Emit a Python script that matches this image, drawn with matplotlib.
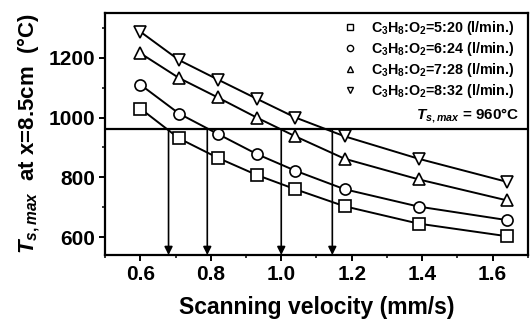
import numpy as np
import matplotlib
matplotlib.use("Agg")
import matplotlib.pyplot as plt
from matplotlib.ticker import MultipleLocator
from matplotlib.lines import Line2D

plt.rcParams['font.family'] = ['Liberation Sans', 'DejaVu Sans']
plt.rcParams['font.weight'] = 'bold'
plt.rcParams['mathtext.fontset'] = 'custom'
plt.rcParams['mathtext.rm'] = 'Liberation Sans:bold'
plt.rcParams['mathtext.it'] = 'Liberation Sans:italic:bold'
plt.rcParams['mathtext.bf'] = 'Liberation Sans:bold'

# scanning velocity (mm/s)
velocity = [0.60, 0.71, 0.82, 0.93, 1.04, 1.18, 1.39, 1.64]

# peak surface temperature at x=8.5cm (C)
t_520 = [1030, 930, 865, 808, 760, 703, 645, 603]
t_624 = [1110, 1013, 945, 878, 822, 760, 702, 657]
t_728 = [1215, 1132, 1067, 1000, 937, 862, 793, 723]
t_832 = [1287, 1192, 1127, 1063, 1000, 937, 862, 785]

series = [
    (t_520, 's', r'C$_3$H$_8$:O$_2$=5:20 (l/min.)'),
    (t_624, 'o', r'C$_3$H$_8$:O$_2$=6:24 (l/min.)'),
    (t_728, '^', r'C$_3$H$_8$:O$_2$=7:28 (l/min.)'),
    (t_832, 'v', r'C$_3$H$_8$:O$_2$=8:32 (l/min.)'),
]

t_limit = 960
limit_velocity = [0.68, 0.79, 1.00, 1.145]

fig = plt.figure(figsize=(5.31, 3.22), dpi=100)
ax = fig.add_axes([0.198, 0.208, 0.796, 0.752])

handles = []
for temps, mk, lab in series:
    ax.plot(velocity, temps, color='black', lw=1.4, marker=mk, ms=8,
            mfc='white', mec='black', mew=1.2)
    handles.append(Line2D([], [], ls='none', marker=mk, ms=4.5, mfc='white',
                          mec='black', mew=1.0, label=lab))

ax.axhline(t_limit, color='black', lw=1.6)
for v in limit_velocity:
    ax.annotate('', xy=(v, 540), xytext=(v, t_limit),
                arrowprops=dict(arrowstyle='-|>', color='black', lw=1.2,
                                mutation_scale=12, shrinkA=0, shrinkB=0))

ax.set_xlim(0.5, 1.7)
ax.set_ylim(540, 1350)
ax.xaxis.set_major_locator(MultipleLocator(0.2))
ax.xaxis.set_minor_locator(MultipleLocator(0.1))
ax.yaxis.set_minor_locator(MultipleLocator(100))
ax.set_yticks([600, 800, 1000, 1200])
ax.tick_params(which='major', direction='out', length=4, width=1.4, labelsize=15, pad=3)
ax.tick_params(which='minor', direction='out', length=2.5, width=1.1)
for s in ax.spines.values():
    s.set_linewidth(1.6)

ax.set_xlabel('Scanning velocity (mm/s)', fontsize=16.5, fontweight='bold', labelpad=9)
ax.set_ylabel(r'$T_{s,max}$  at x=8.5cm  (°C)', fontsize=16, fontweight='bold', labelpad=5)

ax.legend(handles=handles, loc='upper right', bbox_to_anchor=(0.969, 0.975),
          frameon=False, fontsize=10.3, handlelength=1.0, handletextpad=1.0,
          labelspacing=0.22, borderaxespad=0, borderpad=0)
ax.text(0.981, 0.575, r'$T_{s,max}$ = 960°C', transform=ax.transAxes,
        ha='right', va='center', fontsize=11, fontweight='bold')

fig.savefig('out.png', dpi=100)
